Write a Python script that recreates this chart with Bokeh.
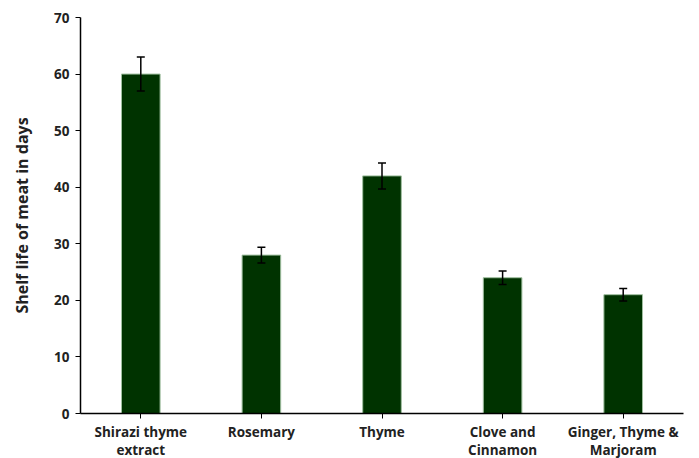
from bokeh.plotting import figure
from bokeh.models import ColumnDataSource, Whisker, TeeHead, FixedTicker, FactorRange
from bokeh.embed import file_html
from bokeh.resources import INLINE

categories = ["Shirazi thyme\nextract", "Rosemary", "Thyme", "Clove and\nCinnamon", "Ginger, Thyme &\nMarjoram"]
shelf_life = [60, 28, 42, 24, 21]
errors = [3.0, 1.4, 2.3, 1.2, 1.1]
y_ticks = [0, 10, 20, 30, 40, 50, 60, 70]

src = ColumnDataSource(data=dict(
    cat=categories,
    val=shelf_life,
    upper=[v + e for v, e in zip(shelf_life, errors)],
    lower=[v - e for v, e in zip(shelf_life, errors)],
))

p = figure(frame_width=603, frame_height=396, output_backend="svg", toolbar_location=None,
           x_range=FactorRange(factors=categories, range_padding=0), y_range=(0, 70),
           min_border_left=80, min_border_right=16, min_border_top=17, min_border_bottom=30)

p.vbar(x="cat", top="val", width=0.32, source=src, fill_color="#003300",
       line_color="#9fbf9f", line_width=1)

w = Whisker(base="cat", upper="upper", lower="lower", source=src, line_color="black", line_width=1.5,
            level="overlay",
            upper_head=TeeHead(size=8, line_width=1.5, line_color="black"),
            lower_head=TeeHead(size=8, line_width=1.5, line_color="black"))
p.add_layout(w)

p.xgrid.visible = False
p.ygrid.visible = False
p.outline_line_color = None

p.yaxis.ticker = FixedTicker(ticks=y_ticks)
p.yaxis.axis_label = "Shelf life of meat in days"
p.yaxis.axis_label_text_font = "Open Sans"
p.yaxis.axis_label_text_font_style = "bold"
p.yaxis.axis_label_text_font_size = "16px"
p.yaxis.axis_label_text_color = "#222222"
p.yaxis.axis_label_standoff = 18
p.yaxis.minor_tick_line_color = None
p.yaxis.major_tick_out = 5
p.yaxis.major_tick_in = 0

for ax in (p.xaxis, p.yaxis):
    ax.major_label_text_font = "Open Sans"
    ax.major_label_text_font_style = "bold"
    ax.major_label_text_font_size = "13.5px"
    ax.major_label_text_color = "#222222"
    ax.axis_line_color = "black"
    ax.axis_line_width = 1.5
    ax.major_tick_line_color = "black"
    ax.major_tick_line_width = 1

p.yaxis.major_label_standoff = 6
p.xaxis.major_tick_out = 5
p.xaxis.major_tick_in = 0
p.xaxis.major_label_standoff = 4
p.xaxis.major_label_text_line_height = 1.0

open("out.html", "w").write(file_html(p, INLINE))
